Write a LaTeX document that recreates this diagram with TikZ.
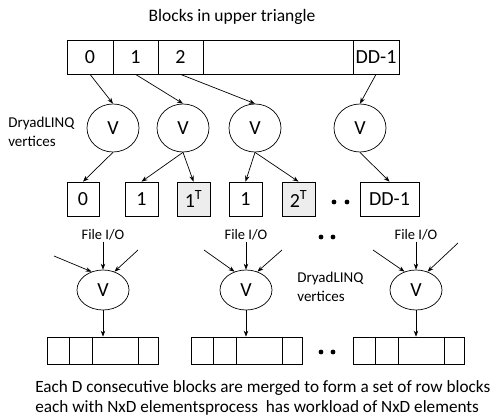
\documentclass[tikz,border=0pt]{standalone}
\usepackage{fontspec}
\setmainfont{Carlito}
\usepackage{tikz}
\usetikzlibrary{calc}
\usetikzlibrary{arrows.meta}
\usetikzlibrary{shapes.geometric}

\begin{document}
\begin{tikzpicture}[x=1pt,y=-1pt,line width=0.7pt,>={Stealth[length=6pt,width=4.5pt]},
  cell/.style={draw,inner sep=0,minimum height=34,font=\fontsize{20}{22}\selectfont},
  tcell/.style={cell,fill=black!7},
  rowcell/.style={draw,inner sep=0,minimum height=27,minimum width=111,anchor=west},
  vert/.style={draw,ellipse,inner sep=0,minimum width=52,minimum height=48,font=\fontsize{20}{22}\selectfont},
  wvert/.style={vert,minimum height=40},
  io/.style={inner sep=1pt,font=\fontsize{14.5}{16}\selectfont},
  lbl/.style={inner sep=0,align=left,anchor=west,font=\fontsize{15}{19}\selectfont}]
\useasboundingbox (0,0) rectangle (494,419);

\node[font=\fontsize{17.5}{20}\selectfont] (title) at (232,17) {Blocks in upper triangle};

\foreach \n/\x/\w/\t in {c0/90/46/0, c1/135.5/45/1, c2/180.5/45/2, cx/278/150/{}, cd/376/46/DD-1}
{
	\node[cell,minimum width=\w] (\n) at (\x,57) {\t};
}

\node[lbl] (dl1) at (8,132) {DryadLINQ\\vertices};
\foreach \n/\x in {v1/113, v2/183, v3/255, v4/360}
{
	\node[vert] (\n) at (\x,128) {V};
}

\node[cell,minimum width=32] (b0) at (83,199) {0};
\node[cell,minimum width=33] (b1) at (141.5,199) {1};
\node[tcell,minimum width=33] (b1t) at (193.5,199) {1\textsuperscript{T}};
\node[cell,minimum width=33] (b1b) at (245.5,199) {1};
\node[tcell,minimum width=33] (b2t) at (298.5,199) {2\textsuperscript{T}};
\node[cell,minimum width=59] (bd) at (389.5,199) {DD-1};
\foreach \x in {334,347}
{
	\fill (\x,202) circle (2.4);
}

\draw[->] (c0.south) -- (v1.north);
\draw[->] (c1.south) -- (v2.north);
\draw[->] (c2.south) -- (v3.north);
\draw[->] (cd.south) -- (v4.north);

\draw[->] (v1.south) -- (b0.north);
\draw[->] (v2.south) -- (b1.north);
\draw[->] (v2.south) -- (b1t.north);
\draw[->] (v3.south) -- (b1b.north);
\draw[->] (v3.south) -- (b2t.north);
\draw[->] (v4.south) -- (bd.north);

\foreach \i/\x/\lx/\ly/\rx/\ry/\bx in {1/103/54/256/138/250/47, 2/246/204/250/282/250/191, 3/416/373/250/458/243/353}
{
	\node[io] (f\i) at (\x,235) {File I/O};
	\node[wvert] (w\i) at (\x,290) {V};
	\coordinate (la\i) at (\lx,\ly);
	\coordinate (ra\i) at (\rx,\ry);
	\draw[->] (f\i) -- (w\i.north);
	\draw[->] (la\i) -- (w\i.122);
	\draw[->] (ra\i) -- (w\i.58);
	\node[rowcell] (r\i) at (\bx,350.5) {};
	\foreach \d in {22,45,91}
	{
		\draw ([xshift=\d]r\i.north west) -- ([xshift=\d]r\i.south west);
	}
	\draw[->] (w\i.south) -- (w\i.south |- r\i.north);
}

\node[lbl] (dl2) at (297,287) {DryadLINQ\\vertices};
\foreach \x in {321,333}
{
	\fill (\x,237) circle (2.4);
	\fill (\x,352) circle (2.4);
}

\node[inner sep=0,align=left,anchor=west,font=\fontsize{17.2}{20}\selectfont] (note) at (35,398)
{Each D consecutive blocks are merged to form a set of row blocks\\each with NxD elementsprocess\ \ has workload of NxD elements};
\end{tikzpicture}
\end{document}
